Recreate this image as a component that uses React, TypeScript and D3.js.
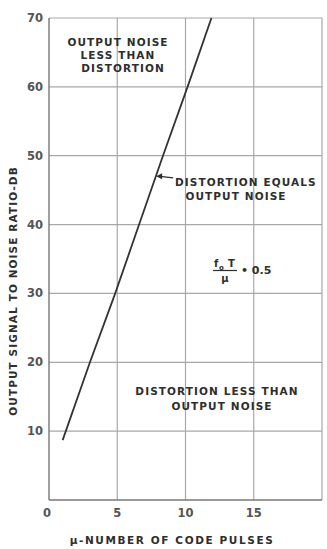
import React from 'react';
import * as d3 from 'd3';

// curve: code pulses vs S/N ratio (db)
const pulses = [1.0, 3.0, 4.85, 6.6, 8.35, 10.15, 11.9];
const snrDb = [8.7, 20, 30, 40, 50, 60, 70];
const xTicks = [0, 5, 10, 15];
const yTicks = [10, 20, 30, 40, 50, 60, 70];
const xGrid = [5, 10, 15, 20];
const yGrid = [10, 20, 30, 40, 50, 60, 70];

const width = 327;
const height = 549;
const ink = '#2e2e2e';
const gridColor = '#a8a8a8';
const font = '"DejaVu Sans", sans-serif';

const App: React.FC = () => {
  const x = d3.scaleLinear().domain([0, 20]).range([49, 322]);
  const y = d3.scaleLinear().domain([0, 70]).range([500, 18]);

  const line = d3.line<number>()
    .x((_, i) => x(pulses[i]))
    .y(d => y(d));

  const arrowY = y(47);
  const arrowX = x(7.85);

  return (
    <svg width={width} height={height} style={{ position: 'absolute', left: 0, top: 0, background: '#fff' }}
      fontFamily={font} fontWeight="bold" fill={ink}>
      {/* grid */}
      {xGrid.map(v => (
        <line key={'gx' + v} x1={x(v)} x2={x(v)} y1={y(70)} y2={y(0)} stroke={gridColor} strokeWidth={1.2} />
      ))}
      {yGrid.map(v => (
        <line key={'gy' + v} x1={x(0)} x2={x(20)} y1={y(v)} y2={y(v)} stroke={gridColor} strokeWidth={1.2} />
      ))}
      {/* axes */}
      <line x1={x(0)} x2={x(0)} y1={y(70)} y2={y(0)} stroke="#777" strokeWidth={1.4} />
      <line x1={x(0)} x2={x(20)} y1={y(0)} y2={y(0)} stroke="#777" strokeWidth={1.4} />

      {/* tick labels */}
      {yTicks.map(v => (
        <text key={'ty' + v} x={43} y={y(v) + 4} textAnchor="end" fontSize={11.5} fill="#555">{v}</text>
      ))}
      {xTicks.map(v => (
        <text key={'tx' + v} x={v === 0 ? 47 : x(v)} y={517} textAnchor="middle" fontSize={11.5} fill="#555">{v}</text>
      ))}

      {/* curve */}
      <path d={line(snrDb) ?? ''} fill="none" stroke="#333" strokeWidth={1.8} />

      {/* arrow to curve */}
      <line x1={arrowX + 4} x2={arrowX + 17} y1={arrowY} y2={arrowY + 1.5} stroke={ink} strokeWidth={1.2} />
      <path d={`M${arrowX},${arrowY} l6,-3 l0,6 z`} fill={ink} />

      {/* annotations */}
      <g fontSize={10.5} letterSpacing={1.1}>
        <text x={118} y={46} textAnchor="middle">OUTPUT NOISE</text>
        <text x={118} y={59} textAnchor="middle">LESS THAN</text>
        <text x={123} y={72} textAnchor="middle">DISTORTION</text>

        <text x={175} y={186}>DISTORTION EQUALS</text>
        <text x={236} y={200} textAnchor="middle">OUTPUT NOISE</text>

        <text x={217} y={395} textAnchor="middle">DISTORTION LESS THAN</text>
        <text x={222} y={410} textAnchor="middle">OUTPUT NOISE</text>
      </g>

      {/* f0 T / mu = 0.5 */}
      <g fontSize={10}>
        <text x={214} y={267}>f</text>
        <text x={219} y={270} fontSize={7}>o</text>
        <text x={228} y={267}>T</text>
        <line x1={213} x2={237} y1={270.5} y2={270.5} stroke={ink} strokeWidth={1.2} />
        <text x={225} y={282} textAnchor="middle">μ</text>
        <text x={241} y={274} fontSize={11}>• 0.5</text>
      </g>

      {/* axis titles */}
      <text x={172} y={544} textAnchor="middle" fontSize={10.5} letterSpacing={1.6}>μ-NUMBER OF CODE PULSES</text>
      <text transform={`translate(17,291) rotate(-90)`} textAnchor="middle" fontSize={10.5} letterSpacing={1.1}>
        OUTPUT SIGNAL TO NOISE RATIO-DB
      </text>
    </svg>
  );
};

export default App;
